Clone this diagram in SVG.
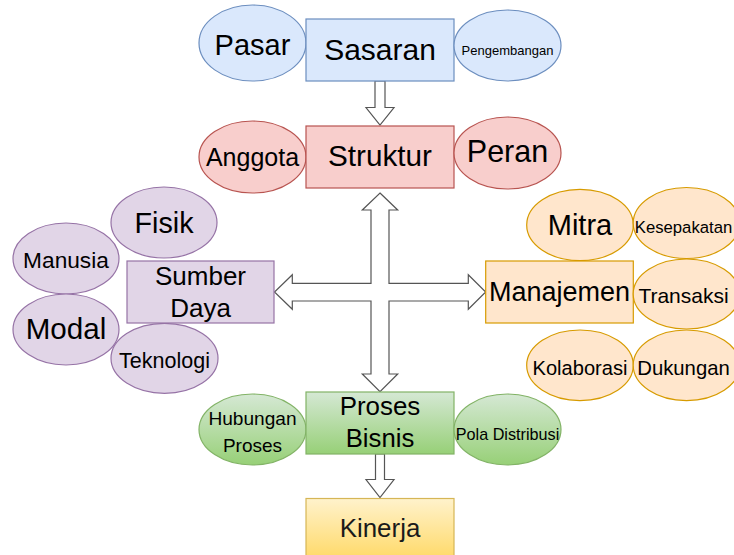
<svg xmlns="http://www.w3.org/2000/svg" width="734" height="555" viewBox="0 0 734 555">
<defs>
<linearGradient id="gGreen" x1="0" y1="0" x2="0" y2="1"><stop offset="0" stop-color="#d5e8d4"/><stop offset="1" stop-color="#97d077"/></linearGradient>
<linearGradient id="gYellow" x1="0" y1="0" x2="0" y2="1"><stop offset="0" stop-color="#fff2cc"/><stop offset="1" stop-color="#ffd966"/></linearGradient>
<style>
text{font-family:"Liberation Sans",Arial,sans-serif;fill:#000;text-anchor:middle}
.blue{fill:#dae8fc;stroke:#6c8ebf;stroke-width:1.2}
.red{fill:#f8cecc;stroke:#b85450;stroke-width:1.2}
.purple{fill:#e1d5e7;stroke:#9673a6;stroke-width:1.2}
.orange{fill:#ffe6cc;stroke:#d79b00;stroke-width:1.2}
.green{fill:url(#gGreen);stroke:#82b366;stroke-width:1.2}
.yellow{fill:url(#gYellow);stroke:#d6b656;stroke-width:1.2}
.arrow{fill:#fff;stroke:#555;stroke-width:1.2;stroke-linejoin:miter}
</style>
</defs>
<g id="connectors">
<path class="arrow" d="M375,81 L385,81 L385,107.5 L394,107.5 L380,125 L366,107.5 L375,107.5 Z"/>
<path class="arrow" d="M380,193 L397.7,210 L389,210 L389,283.3 L468.3,283.3 L468.3,274.7 L485.7,292 L468.3,309.3 L468.3,301 L389,301 L389,374 L397.7,374 L380,391.7 L362.3,374 L371,374 L371,301 L292.3,301 L292.3,309.3 L274.5,292 L292.3,274.7 L292.3,283.3 L371,283.3 L371,210 L362.3,210 Z"/>
<path class="arrow" d="M375.5,454 L384.5,454 L384.5,479.5 L394,479.5 L380,497.5 L366,479.5 L375.5,479.5 Z"/>
</g>
<g id="pasar"><ellipse class="blue" cx="252.5" cy="43" rx="53.5" ry="38"/><text x="252.5" y="55" font-size="29">Pasar</text></g>
<g id="sasaran"><rect class="blue" x="306" y="19" width="148" height="62"/><text x="380" y="60" font-size="30">Sasaran</text></g>
<g id="pengembangan"><ellipse class="blue" cx="507.5" cy="45.5" rx="53.5" ry="35.5"/><text x="507.5" y="55" font-size="13">Pengembangan</text></g>

<g id="anggota"><ellipse class="red" cx="252.5" cy="157" rx="53.5" ry="36"/><text x="252.5" y="165.7" font-size="25">Anggota</text></g>
<g id="struktur"><rect class="red" x="306" y="126" width="148" height="62"/><text x="380" y="165.7" font-size="29.7">Struktur</text></g>
<g id="peran"><ellipse class="red" cx="507.5" cy="153" rx="53.5" ry="36"/><text x="507.5" y="161.7" font-size="30.5">Peran</text></g>

<g id="fisik"><ellipse class="purple" cx="164" cy="222.5" rx="53" ry="35.5"/><text x="164" y="233.3" font-size="28.7">Fisik</text></g>
<g id="manusia"><ellipse class="purple" cx="66" cy="258.5" rx="53" ry="35.5"/><text x="66" y="268.3" font-size="22.7">Manusia</text></g>
<g id="modal"><ellipse class="purple" cx="66" cy="329.5" rx="53" ry="35.5"/><text x="66" y="339.3" font-size="29.6">Modal</text></g>
<g id="teknologi"><ellipse class="purple" cx="164.5" cy="358.3" rx="53.5" ry="35"/><text x="164.5" y="368.3" font-size="21.5">Teknologi</text></g>
<g id="sumber-daya"><rect class="purple" x="127" y="261" width="147" height="62"/><text x="200.5" y="285" font-size="26">Sumber</text><text x="200.5" y="316.7" font-size="26">Daya</text></g>

<g id="mitra"><ellipse class="orange" cx="580" cy="225" rx="53.3" ry="35.7"/><text x="580" y="235" font-size="29">Mitra</text></g>
<g id="kesepakatan"><ellipse class="orange" cx="686.5" cy="223" rx="53.3" ry="35.5"/><text x="683.5" y="233.3" font-size="16.7">Kesepakatan</text></g>
<g id="manajemen"><rect class="orange" x="485.7" y="261" width="147.6" height="62"/><text x="559.5" y="300.7" font-size="27">Manajemen</text></g>
<g id="transaksi"><ellipse class="orange" cx="686.5" cy="294" rx="53.3" ry="35"/><text x="683.5" y="303.3" font-size="21">Transaksi</text></g>
<g id="kolaborasi"><ellipse class="orange" cx="580" cy="365.3" rx="53.3" ry="35.3"/><text x="580" y="375" font-size="20.1">Kolaborasi</text></g>
<g id="dukungan"><ellipse class="orange" cx="686.5" cy="365.3" rx="53.3" ry="35.3"/><text x="683.5" y="375" font-size="20.3">Dukungan</text></g>

<g id="hubungan-proses"><ellipse class="green" cx="252.5" cy="429.5" rx="53.5" ry="35.5"/><text x="252.5" y="425" font-size="19.1">Hubungan</text><text x="252.5" y="451.7" font-size="19">Proses</text></g>
<g id="proses-bisnis"><rect class="green" x="306" y="392" width="148" height="62"/><text x="380" y="415" font-size="25.9">Proses</text><text x="380" y="446.7" font-size="25.7">Bisnis</text></g>
<g id="pola-distribusi"><ellipse class="green" cx="507.5" cy="429.5" rx="53.5" ry="35.5"/><text x="507.5" y="440" font-size="16.2">Pola Distribusi</text></g>

<g id="kinerja"><rect class="yellow" x="306" y="498.5" width="148" height="62"/><text x="380" y="536.7" font-size="25.9" style="fill:#1a1a1a">Kinerja</text></g>
</svg>
